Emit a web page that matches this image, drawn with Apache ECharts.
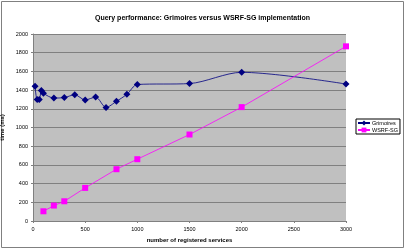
<!DOCTYPE html>
<html>
<head>
<meta charset="utf-8">
<script src="https://cdn.jsdelivr.net/npm/echarts@6/dist/echarts.min.js"></script>
<style>
  html, body { margin: 0; padding: 0; background: #fff; }
  #chart { width: 405px; height: 250px; }
</style>
</head>
<body>
<div id="chart"></div>
<script>
  // services count vs query time (ms)
  var grimX = [20, 40, 60, 80, 100, 200, 300, 400, 500, 600, 700, 800, 900, 1000, 1500, 2000, 3000];
  var grimY = [1440, 1300, 1300, 1395, 1365, 1315, 1320, 1350, 1295, 1325, 1215, 1280, 1355, 1460, 1470, 1590, 1465];
  var wsrfX = [100, 200, 300, 500, 800, 1000, 1500, 2000, 3000];
  var wsrfY = [104, 165, 211, 354, 554, 661, 925, 1218, 1868];
  var seriesNames = ['Grimoires', 'WSRF-SG'];

  function pairs(xs, ys) {
    var out = [];
    for (var i = 0; i < xs.length; i++) out.push([xs[i], ys[i]]);
    return out;
  }
  function plain(v) { return String(v); }

  var font = 'Liberation Sans, Arial, sans-serif';
  var chart = echarts.init(document.getElementById('chart'));
  chart.setOption({
    animation: false,
    backgroundColor: '#fff',
    graphic: [{
      type: 'rect',
      shape: { x: 1.5, y: 1.5, width: 402, height: 246 },
      style: { fill: 'none', stroke: '#808080', lineWidth: 1 }
    }],
    title: {
      text: 'Query performance: Grimoires versus WSRF-SG implementation',
      left: 'center',
      top: 10,
      textStyle: { fontFamily: font, fontSize: 7, fontWeight: 'bold', color: '#000' }
    },
    legend: {
      orient: 'vertical',
      left: 356,
      top: 119,
      padding: [1, 2, 1, 1],
      itemGap: 1,
      itemWidth: 12,
      itemHeight: 6,
      borderColor: '#000',
      borderWidth: 1,
      backgroundColor: '#fff',
      textStyle: { fontFamily: font, fontSize: 5.5, color: '#000', padding: [0, 0, 0, -3] },
      data: seriesNames
    },
    grid: {
      left: 33,
      right: 59,
      top: 34,
      bottom: 29,
      outerBoundsMode: 'none',
      show: true,
      backgroundColor: '#c0c0c0',
      borderWidth: 0
    },
    xAxis: {
      type: 'value',
      min: 0,
      max: 3000,
      interval: 500,
      name: 'number of registered services',
      nameLocation: 'middle',
      nameGap: 16,
      nameTextStyle: { fontFamily: font, fontSize: 6, fontWeight: 'bold', color: '#000' },
      axisLine: { lineStyle: { color: '#808080' } },
      axisTick: { show: true, length: 2, lineStyle: { color: '#808080' } },
      axisLabel: { fontFamily: font, fontSize: 5.5, color: '#000', margin: 5, formatter: plain },
      splitLine: { show: false }
    },
    yAxis: {
      type: 'value',
      min: 0,
      max: 2000,
      interval: 200,
      name: 'time (ms)',
      nameLocation: 'middle',
      nameGap: 22,
      nameRotate: 90,
      nameTextStyle: { fontFamily: font, fontSize: 6, fontWeight: 'bold', color: '#000' },
      axisLine: { show: true, lineStyle: { color: '#808080' } },
      axisTick: { show: true, length: 2, lineStyle: { color: '#808080' } },
      axisLabel: { fontFamily: font, fontSize: 5.5, color: '#000', margin: 5, formatter: plain },
      splitLine: { show: true, lineStyle: { color: '#808080', width: 1 } }
    },
    series: [{
      name: seriesNames[0],
      type: 'line',
      data: pairs(grimX, grimY),
      smooth: 0.3,
      symbol: 'diamond',
      symbolSize: 7,
      lineStyle: { color: '#000080', width: 0.8 },
      itemStyle: { color: '#000080' }
    }, {
      name: seriesNames[1],
      type: 'line',
      data: pairs(wsrfX, wsrfY),
      symbol: 'rect',
      symbolSize: 6,
      lineStyle: { color: '#ff00ff', width: 0.8 },
      itemStyle: { color: '#ff00ff' }
    }]
  });
</script>
</body>
</html>
